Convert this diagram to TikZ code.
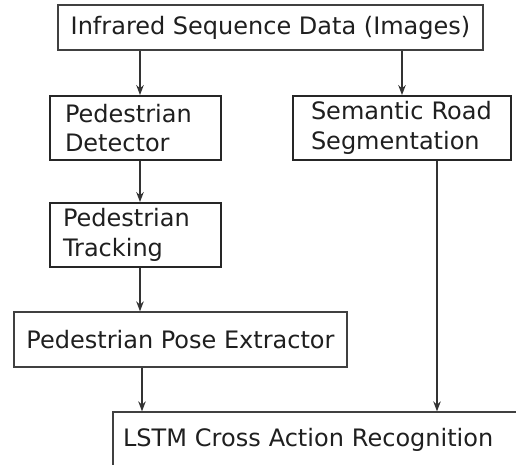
\documentclass[tikz,border=0pt]{standalone}
\usepackage{fontspec}
\setmainfont{DejaVu Sans}
\usetikzlibrary{arrows.meta}
\begin{document}
\begin{tikzpicture}[x=1pt,y=-1pt,
  box/.style={draw=black!75, line width=1.3pt, rectangle, inner sep=0pt, text=black!88,
    font=\fontsize{24}{29.5}\selectfont},
  boldbox/.style={box, draw=black!85, line width=1.9pt},
  arr/.style={draw=black!80, line width=1.3pt, -{Stealth[length=10pt,width=7.5pt]}}]
\useasboundingbox (0,0) rectangle (516,464);
\clip (0,0) rectangle (516,464);
\fill[white] (0,0) rectangle (516,464);
\node[box, minimum width=425pt, minimum height=45pt] (src) at (270.5,27.5) {Infrared Sequence Data (Images)};
\node[boldbox, minimum width=171pt, minimum height=64pt, text width=141pt, align=left] (det) at (135.5,128) {Pedestrian\\Detector};
\node[boldbox, minimum width=218pt, minimum height=64pt, text width=182pt, align=left] (seg) at (402,128) {Semantic Road\\Segmentation};
\node[boldbox, minimum width=171pt, minimum height=64pt, text width=145pt, align=left] (trk) at (135.5,235) {Pedestrian\\Tracking};
\node[box, minimum width=333pt, minimum height=55pt] (pose) at (180.5,339.5) {Pedestrian Pose Extractor};
\node[box, minimum width=427pt, minimum height=56pt, text width=407pt, align=left] (lstm) at (326.5,440) {LSTM Cross Action Recognition};
\coordinate (c1) at (140,0);
\coordinate (c3) at (437,0);
\coordinate (c4) at (142,0);
\draw[arr] (src.south -| c1) -- (det.north -| c1);
\draw[arr] (src.south -| seg) -- (seg.north);
\draw[arr] (det.south -| c1) -- (trk.north -| c1);
\draw[arr] (trk.south -| c1) -- (pose.north -| c1);
\draw[arr] (pose.south -| c4) -- (lstm.north -| c4);
\draw[arr] (seg.south -| c3) -- (lstm.north -| c3);
\end{tikzpicture}
\end{document}
